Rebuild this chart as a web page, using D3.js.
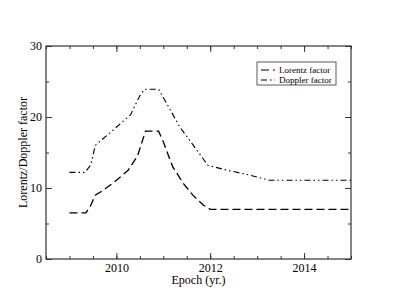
<!DOCTYPE html>
<html>
<head>
<meta charset="utf-8">
<script src="https://cdn.jsdelivr.net/npm/d3@7"></script>
<style>
  body { margin: 0; background: #fff; }
  text { font-family: "Liberation Serif", "Times New Roman", serif; fill: #000; }
</style>
</head>
<body>
<svg id="chart" width="395" height="305"></svg>
<script>
// values
var lorentzYears = [2009.0, 2009.35, 2009.45, 2009.55, 2009.7, 2009.95, 2010.25, 2010.45, 2010.62, 2010.9, 2011.0, 2011.2, 2011.42, 2011.63, 2011.85, 2012.0, 2015.0]
var lorentzValues = [6.5, 6.5, 7.5, 9.0, 9.6, 10.8, 12.5, 14.5, 18, 18, 16.5, 13, 10.7, 9.0, 7.6, 7.0, 7.0]
var dopplerYears = [2009.0, 2009.33, 2009.45, 2009.55, 2009.85, 2010.3, 2010.5, 2010.6, 2010.9, 2011.15, 2011.35, 2011.63, 2011.95, 2012.3, 2012.85, 2013.25, 2015.0]
var dopplerValues = [12.2, 12.2, 13.2, 16, 17.7, 20.3, 23, 23.9, 23.9, 21, 18.6, 16.1, 13.2, 12.6, 11.8, 11.1, 11.1]
var xTicks = [2010, 2012, 2014]
var yTicks = [0, 10, 20, 30]
var seriesNames = ["Lorentz factor", "Doppler factor"]

var m = {left: 46, right: 351, top: 46, bottom: 259}
var svg = d3.select("#chart")

var x = d3.scaleLinear().domain([2008.5, 2015]).range([m.left, m.right])
var y = d3.scaleLinear().domain([0, 30]).range([m.bottom, m.top])

var axisColor = "#333"
var xMinor = d3.range(2008.5, 2015.01, 0.5)
var yMinor = d3.range(0, 30.01, 5)

// negative tick size -> ticks point into the plot, labels stay outside
function drawAxis(axis, pos, major, minor, labels) {
    var g = svg.append("g").attr("transform", pos)
    g.call(axis.tickValues(minor).tickSize(-3).tickFormat(""))
    g.select(".domain").remove()
    g.selectAll("line").attr("stroke", axisColor)
    var g2 = svg.append("g").attr("transform", pos)
    g2.call(axis.tickValues(major).tickSize(-6).tickPadding(4).tickFormat(labels ? d3.format("d") : ""))
    g2.select(".domain").remove()
    g2.selectAll("line").attr("stroke", axisColor)
    g2.selectAll("text").attr("font-size", 12).attr("font-family", "Liberation Serif")
    return g2
}

drawAxis(d3.axisBottom(x), "translate(0," + m.bottom + ")", xTicks, xMinor, true)
drawAxis(d3.axisTop(x), "translate(0," + m.top + ")", xTicks, xMinor, false)
drawAxis(d3.axisLeft(y), "translate(" + m.left + ",0)", yTicks, yMinor, true)
drawAxis(d3.axisRight(y), "translate(" + m.right + ",0)", yTicks, yMinor, false)

svg.append("rect")
    .attr("x", m.left).attr("y", m.top)
    .attr("width", m.right - m.left).attr("height", m.bottom - m.top)
    .attr("fill", "none").attr("stroke", axisColor).attr("stroke-width", 1.2)

var line = d3.line().x(function(d) { return x(d[0]) }).y(function(d) { return y(d[1]) })
var lorentz = lorentzYears.map(function(t, i) { return [t, lorentzValues[i]] })
var doppler = dopplerYears.map(function(t, i) { return [t, dopplerValues[i]] })
var dashes = ["8,4", "6,3,1.5,3,1.5,3"]

svg.append("path").datum(lorentz).attr("d", line)
    .attr("fill", "none").attr("stroke", "#000").attr("stroke-width", 1.3)
    .attr("stroke-dasharray", dashes[0])
svg.append("path").datum(doppler).attr("d", line)
    .attr("fill", "none").attr("stroke", "#000").attr("stroke-width", 1.1)
    .attr("stroke-dasharray", dashes[1])

svg.append("text").attr("x", (m.left + m.right) / 2).attr("y", 284)
    .attr("text-anchor", "middle").attr("font-size", 12).text("Epoch (yr.)")
svg.append("text").attr("transform", "translate(27," + (m.top + m.bottom) / 2 + ") rotate(-90)")
    .attr("text-anchor", "middle").attr("font-size", 12).text("Lorentz/Doppler factor")

// legend
var lg = svg.append("g")
lg.append("rect").attr("x", 257).attr("y", 62).attr("width", 79).attr("height", 23)
    .attr("fill", "#fff").attr("stroke", axisColor).attr("stroke-width", 0.8)
seriesNames.forEach(function(name, i) {
    var yy = 70 + i * 10
    lg.append("line").attr("x1", 261).attr("x2", 275).attr("y1", yy).attr("y2", yy)
        .attr("stroke", "#000").attr("stroke-width", 1.1).attr("stroke-dasharray", dashes[i])
    lg.append("text").attr("x", 279).attr("y", yy + 3).attr("font-size", 9).text(name)
})
</script>
</body>
</html>
